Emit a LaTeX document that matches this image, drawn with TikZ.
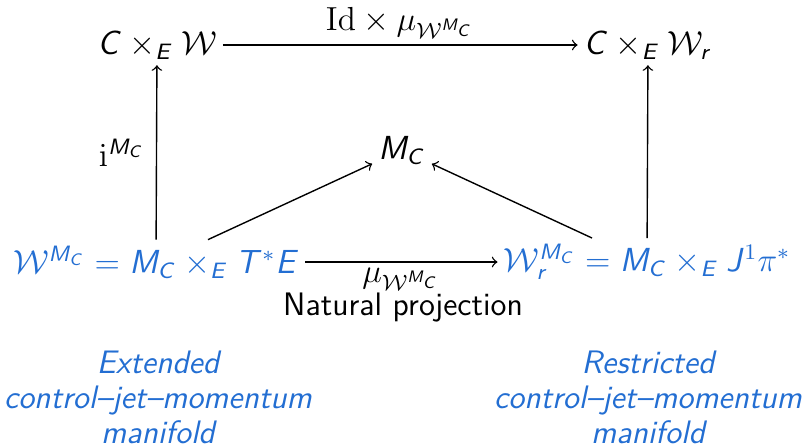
\documentclass[tikz,border=0pt]{standalone}
\usetikzlibrary{calc}
\DeclareSymbolFont{sfit}{OT1}{cmss}{m}{sl}
\DeclareMathSymbol{C}{\mathalpha}{sfit}{`C}
\DeclareMathSymbol{E}{\mathalpha}{sfit}{`E}
\DeclareMathSymbol{M}{\mathalpha}{sfit}{`M}
\DeclareMathSymbol{T}{\mathalpha}{sfit}{`T}
\DeclareMathSymbol{J}{\mathalpha}{sfit}{`J}
\DeclareMathSymbol{r}{\mathalpha}{sfit}{`r}
\renewcommand\familydefault{\sfdefault}
\definecolor{bblue}{RGB}{35,110,210}
\newcommand\fsz{\fontsize{11.7}{12.6}\selectfont}
\tikzset{
  obj/.style={inner sep=2pt, font=\fsz},
  bobj/.style={obj, text=bblue},
  lbl/.style={font=\fsz, inner sep=2pt},
  note/.style={font=\fsz\itshape, text=bblue, align=center},
  arr/.style={->, line width=0.5pt}
}
\begin{document}
\begin{tikzpicture}[x=0.36pt, y=-0.36pt]
\useasboundingbox (0,0) rectangle (802,446);
\node[obj] (tl) at (157,45) {$C\times_E\mathcal{W}$};
\node[obj] (tr) at (648,45) {$C\times_E\mathcal{W}_r$};
\node[obj] (mc) at (402,150) {$M_C$};
\node[bobj] (bl) at (156,262) {$\mathcal{W}^{M_C}=M_C\times_E T^*E$};
\node[bobj] (br) at (647,262) {$\mathcal{W}_r^{M_C}=M_C\times_E J^1\pi^*$};
\draw[arr] (tl) -- node[lbl, above] (top) {$\mathrm{Id}\times\mu_{\mathcal{W}^{M_C}}$} (tr);
\draw[arr] (bl) -- node[lbl, below] (mu) {$\mu_{\mathcal{W}^{M_C}}$} (br);
\node[lbl] (np) at (403,308) {Natural projection};
\draw[arr] (bl) -- node[lbl, left=2pt] (iota) {$\mathrm{i}^{M_C}$} (tl);
\draw[arr] (br) -- (tr);
\draw[arr] ($(bl.north)+(52,0)$) -- (mc);
\draw[arr] ($(br.north)+(-55,0)$) -- (mc);
\node[note] (nl) at (158,397) {Extended\\control--jet--momentum\\manifold};
\node[note] (nr) at (648,397) {Restricted\\control--jet--momentum\\manifold};
\end{tikzpicture}
\end{document}
